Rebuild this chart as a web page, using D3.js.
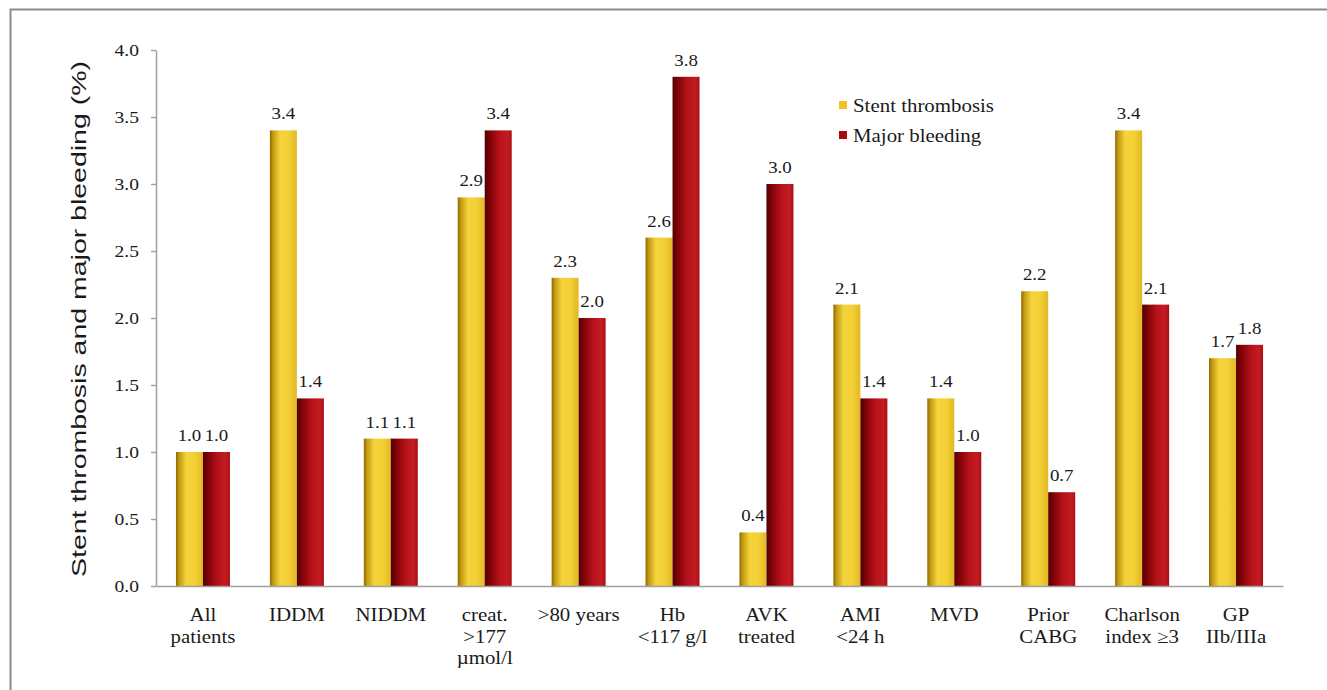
<!DOCTYPE html>
<html>
<head>
<meta charset="utf-8">
<script src="https://cdn.jsdelivr.net/npm/d3@7"></script>
<style>
  html, body { margin: 0; padding: 0; background: #fff; }
</style>
</head>
<body>
<svg id="chart" width="1327" height="690"></svg>
<script>
// Subgroup categories (multi-line labels)
const categories = [
  ["All", "patients"],
  ["IDDM"],
  ["NIDDM"],
  ["creat.", ">177", "µmol/l"],
  [">80 years"],
  ["Hb", "<117 g/l"],
  ["AVK", "treated"],
  ["AMI", "<24 h"],
  ["MVD"],
  ["Prior", "CABG"],
  ["Charlson", "index ≥3"],
  ["GP", "IIb/IIIa"]
];
const seriesNames = ["Stent thrombosis", "Major bleeding"];
const stentThrombosis = [1.0, 3.4, 1.1, 2.9, 2.3, 2.6, 0.4, 2.1, 1.4, 2.2, 3.4, 1.7];
const majorBleeding   = [1.0, 1.4, 1.1, 3.4, 2.0, 3.8, 3.0, 1.4, 1.0, 0.7, 2.1, 1.8];
const yTicks = [0, 0.5, 1.0, 1.5, 2.0, 2.5, 3.0, 3.5, 4.0];

const SERIF = "'Liberation Serif', 'Times New Roman', Times, serif";
const SANS = "'Liberation Sans', Arial, Helvetica, sans-serif";
const INK = "#1a1a1a";

const svg = d3.select("#chart");

// outer frame
svg.append("rect")
  .attr("x", 10.5).attr("y", 9.5)
  .attr("width", 1330).attr("height", 700)
  .attr("fill", "none").attr("stroke", "#8c8c8c").attr("stroke-width", 2);

const plot = { left: 156, right: 1283, top: 50, bottom: 586 };

const x = d3.scaleBand()
  .domain(d3.range(categories.length))
  .range([plot.left, plot.right])
  .paddingInner(0).paddingOuter(0);

const y = d3.scaleLinear().domain([0, 4]).range([plot.bottom, plot.top]);

const barW = 27;

// wide serif text placed at (tx, ty)
function label(parent, tx, ty, lines, anchor, opts = {}) {
  const size = opts.size || 18.5, sx = opts.sx || 1.13, gap = opts.gap || 0;
  const g = parent.append("g").attr("transform", `translate(${tx},${ty}) scale(${sx},1)`);
  const t = g.append("text")
    .attr("text-anchor", anchor)
    .attr("font-family", SERIF)
    .attr("font-size", size)
    .attr("fill", INK);
  [].concat(lines).forEach((ln, k) => {
    t.append("tspan").attr("x", 0).attr("dy", k === 0 ? 0 : gap).text(ln);
  });
  return g;
}

// gradients for the cylindrical bar shading
const defs = svg.append("defs");
const gY = defs.append("linearGradient").attr("id", "gradYellow")
  .attr("x1", "0%").attr("x2", "100%").attr("y1", "0%").attr("y2", "0%");
[["0%", "#8e6a00"], ["12%", "#c49a12"], ["38%", "#f4d43c"], ["70%", "#f3d035"], ["100%", "#e2b824"]]
  .forEach(([o, c]) => gY.append("stop").attr("offset", o).attr("stop-color", c));
const gR = defs.append("linearGradient").attr("id", "gradRed")
  .attr("x1", "0%").attr("x2", "100%").attr("y1", "0%").attr("y2", "0%");
[["0%", "#520000"], ["20%", "#800307"], ["55%", "#b6121a"], ["85%", "#c41c23"], ["100%", "#a80e15"]]
  .forEach(([o, c]) => gR.append("stop").attr("offset", o).attr("stop-color", c));

const series = [
  { name: seriesNames[0], values: stentThrombosis, fill: "url(#gradYellow)", key: "#f0c224", off: -barW },
  { name: seriesNames[1], values: majorBleeding,   fill: "url(#gradRed)",    key: "#a80a0a", off: 0 }
];

const center = i => x(i) + x.bandwidth() / 2;

// bars
series.forEach(s => {
  svg.append("g").selectAll("rect")
    .data(s.values)
    .join("rect")
    .attr("x", (d, i) => center(i) + s.off)
    .attr("y", d => y(d))
    .attr("width", barW)
    .attr("height", d => y(0) - y(d))
    .attr("fill", s.fill);
});

// value labels above bars
const valG = svg.append("g");
series.forEach(s => {
  s.values.forEach((d, i) => {
    label(valG, center(i) + s.off + barW / 2, y(d) - 11, d.toFixed(1), "middle", { size: 17.5, sx: 1.08 });
  });
});

// y axis
const yAxis = d3.axisLeft(y).tickValues(yTicks).tickSize(5).tickSizeOuter(0).tickFormat("");
const yg = svg.append("g").attr("transform", `translate(${plot.left},0)`).call(yAxis);
yg.select(".domain").attr("stroke", "#a0a0a0").attr("stroke-width", 1.5);
yg.selectAll(".tick line").attr("stroke", "#a0a0a0").attr("stroke-width", 1.5);
const fmt = d3.format(".1f");
const tickG = svg.append("g");
yTicks.forEach(v => label(tickG, plot.left - 17, y(v) + 6, fmt(v), "end", { size: 17.5, sx: 1.12 }));

// x axis line
const xAxis = d3.axisBottom(x).tickSize(0).tickFormat("");
const xg = svg.append("g").attr("transform", `translate(0,${plot.bottom})`).call(xAxis);
xg.select(".domain").attr("stroke", "#a0a0a0").attr("stroke-width", 1.5);

// category labels
const catG = svg.append("g");
categories.forEach((lines, i) => label(catG, center(i), 621, lines, "middle", { gap: 21.7 }));

// y axis title
svg.append("text")
  .attr("transform", `translate(79,319) rotate(-90)`)
  .attr("text-anchor", "middle")
  .attr("dominant-baseline", "central")
  .attr("font-family", SANS)
  .attr("font-size", 20)
  .attr("textLength", 516)
  .attr("lengthAdjust", "spacingAndGlyphs")
  .attr("fill", INK)
  .text("Stent thrombosis and major bleeding (%)");

// legend
const leg = svg.append("g").attr("transform", "translate(839,101)");
series.forEach((s, k) => {
  const g = leg.append("g").attr("transform", `translate(0,${k * 30})`);
  g.append("rect").attr("x", 0).attr("y", 0).attr("width", 8).attr("height", 8).attr("fill", s.key);
  label(g, 14, 10.5, s.name, "start");
});
</script>
</body>
</html>
